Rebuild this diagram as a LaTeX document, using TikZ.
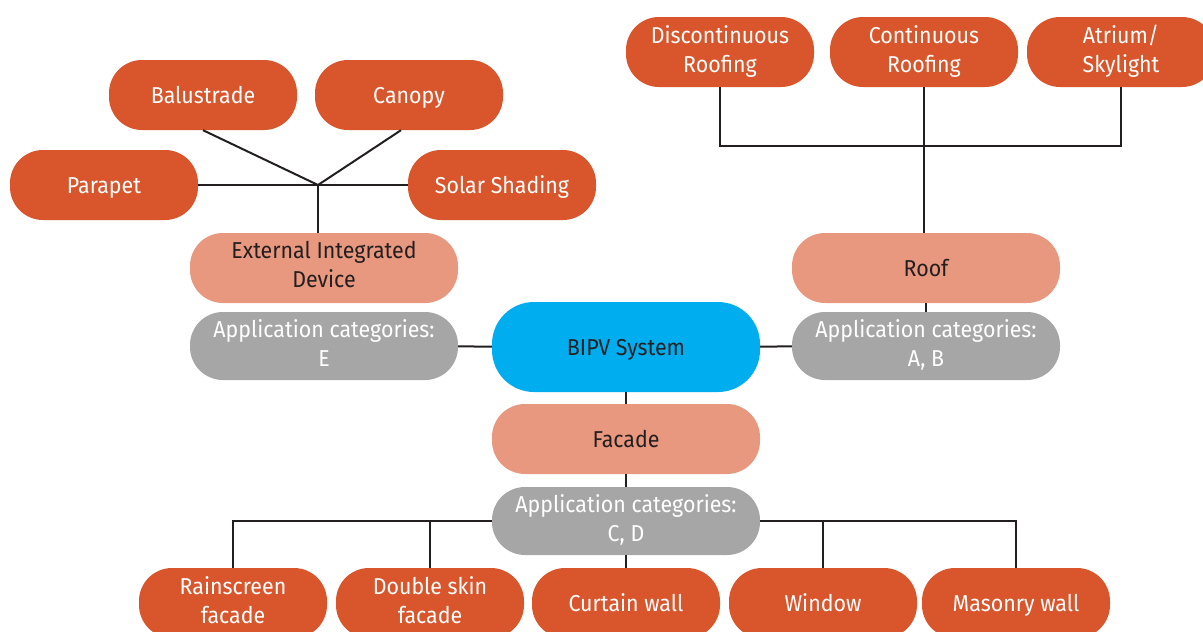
\documentclass[tikz,border=0pt]{standalone}
\usepackage{fontspec}
\setmainfont{Fira Sans}[FakeStretch=0.93]
\definecolor{leafc}{HTML}{D9552B}
\definecolor{groupc}{HTML}{E8987E}
\definecolor{catc}{HTML}{A6A6A6}
\definecolor{hubc}{HTML}{00AEEF}
\definecolor{inkc}{HTML}{231F20}
% strut that keeps capitals centred in every pill
\newcommand\pillstrut{\rule[-6.5pt]{0pt}{29pt}}
\tikzset{
  pill/.style={rectangle, rounded corners=33pt, minimum width=188pt, minimum height=70pt,
    inner sep=0pt, align=center, font=\fontsize{23}{29}\selectfont,
    execute at begin node=\pillstrut, execute at end node=\pillstrut},
  leaf/.style={pill, fill=leafc, text=white},
  group/.style={pill, fill=groupc, text=inkc, minimum width=268pt},
  cat/.style={pill, fill=catc, text=white, minimum width=268pt, minimum height=68pt},
  core/.style={pill, fill=hubc, text=inkc, minimum width=268pt, minimum height=90pt, rounded corners=42pt},
  link/.style={draw=inkc, line width=2pt},
}
\begin{document}
\begin{tikzpicture}[x=1pt,y=-1pt]
\useasboundingbox (0,0) rectangle (1203,632);
\clip (0,0) rectangle (1203,632);

% external integrated devices
\node[leaf] (bal) at (203,95) {Balustrade};
\node[leaf] (can) at (409,95) {Canopy};
\node[leaf] (par) at (104,185) {Parapet};
\node[leaf] (sol) at (502,185) {Solar Shading};
\node[group] (ext) at (324,268) {External Integrated\\Device};
\node[cat] (ce) at (324,346) {Application categories:\\E};

% centre
\node[core] (bipv) at (626,347) {BIPV System};

% roof
\node[leaf] (disc) at (720,52) {Discontinuous\\Roofing};
\node[leaf] (cont) at (924,52) {Continuous\\Roofing};
\node[leaf] (atr) at (1121,52) {Atrium/\\Skylight};
\node[group] (roof) at (926,268) {Roof};
\node[cat] (cab) at (926,346) {Application categories:\\A, B};

% facade
\node[group] (fac) at (626,439) {Facade};
\node[cat] (ccd) at (626,521) {Application categories:\\C, D};
\node[leaf] (rain) at (233,603) {Rainscreen\\facade};
\node[leaf] (dbl) at (430,603) {Double skin\\facade};
\node[leaf] (curt) at (626,603) {Curtain wall};
\node[leaf] (win) at (823,603) {Window};
\node[leaf] (mas) at (1016,603) {Masonry wall};

% connectors of the external devices
\coordinate (hub) at (318,185);
\draw[link] (par.east) -- (sol.west);
\draw[link] (bal.south) -- (hub) -- ([xshift=-8pt]can.south);
\draw[link] (hub) -- (hub |- ext.north);

% connectors of the roof
\coordinate (rbar) at (926,146);
\draw[link] (disc.south) |- (rbar) -| (atr.south);
\draw[link] (cont.south) -- (cont.south |- roof.north);
\draw[link] (roof) -- (cab);

% connectors round the centre
\draw[link] (ce) -- (bipv);
\draw[link] (bipv) -- (cab);
\draw[link] (bipv) -- (fac);
\draw[link] (fac) -- (ccd);

% connectors of the facade
\draw[link] (rain.north) |- (ccd.west);
\draw[link] (dbl.north) -- (dbl.north |- ccd.west);
\draw[link] (mas.north) |- (ccd.east);
\draw[link] (win.north) -- (win.north |- ccd.east);
\draw[link] (ccd) -- (curt);
\end{tikzpicture}
\end{document}
